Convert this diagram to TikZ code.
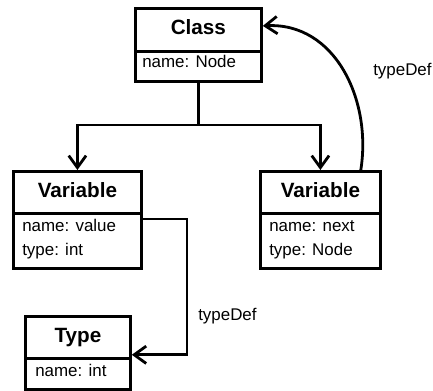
\documentclass[tikz,border=0pt]{standalone}
\usepackage{fontspec}
\setmainfont{Liberation Sans}
\usetikzlibrary{arrows.meta}
\newdimen\px \px=0.75pt
\begin{document}
\begin{tikzpicture}[x=0.75pt,y=-0.75pt,
  box/.style={draw, line width=2.1pt, inner sep=0pt, anchor=north west},
  ttl/.style={font=\fontsize{15.5}{18}\selectfont\bfseries, text height=11pt, text depth=3.5pt},
  attr/.style={font=\fontsize{12.7}{15}\selectfont, anchor=base west, inner sep=0pt},
  lbl/.style={font=\fontsize{12.7}{15}\selectfont, anchor=base west, inner sep=0pt},
  conn/.style={line width=2.1pt},
  tip/.style={-{Straight Barb[length=9pt,width=13pt,line width=2.1pt]}}
]
\useasboundingbox (0,0) rectangle (433,391);

% Class
\node[box, ttl, minimum width=126\px, minimum height=43\px] (clsT) at (134,7) {Class};
\node[box, minimum width=126\px, minimum height=30\px] (clsB) at (134,50) {};
\node[attr] (clsA) at (142,68) {name: Node};

% Left Variable
\node[box, ttl, minimum width=128\px, minimum height=42\px] (lvT) at (12,170) {Variable};
\node[box, minimum width=128\px, minimum height=55\px] (lvB) at (12,212) {};
\node[attr] (lvA1) at (22,232) {name: value};
\node[attr] (lvA2) at (22,256) {type: int};

% Right Variable
\node[box, ttl, minimum width=120\px, minimum height=42\px] (rvT) at (259,170) {Variable};
\node[box, minimum width=120\px, minimum height=55\px] (rvB) at (259,212) {};
\node[attr] (rvA1) at (269,232) {name: next};
\node[attr] (rvA2) at (269,256) {type: Node};

% Type
\node[box, ttl, minimum width=105\px, minimum height=42\px] (tyT) at (24,315) {Type};
\node[box, minimum width=105\px, minimum height=31\px] (tyB) at (24,357) {};
\node[attr] (tyA) at (35,377) {name: int};

% Inheritance-like tree
\coordinate (j) at (clsB.south |- 0,125);
\draw[conn] (clsB.south) -- (j);
\draw[conn,tip] (j) -| (lvT.north);
\draw[conn,tip] (j) -| (rvT.north);

% typeDef curved
\coordinate (cs) at ([xshift=-21\px]rvT.north east);
\coordinate (ce) at ([yshift=4\px]clsT.east);
\draw[conn,tip] (cs) .. controls (372,100) and (335,22) .. (ce);
\node[lbl] (td1) at (373,76) {typeDef};

% typeDef elbow
\coordinate (a) at ([yshift=-7\px]lvB.north east);
\coordinate (k) at (187,219);
\coordinate (b) at ([yshift=5\px]tyT.south east);
\draw[conn,tip] (a) -- (k) |- (b);
\node[lbl] (td2) at (198,321) {typeDef};
\end{tikzpicture}
\end{document}
